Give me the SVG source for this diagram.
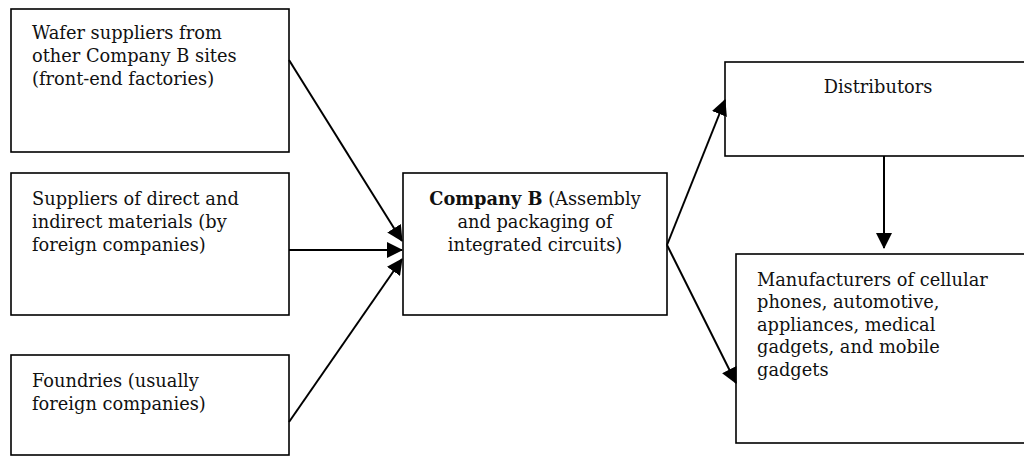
<svg xmlns="http://www.w3.org/2000/svg" width="1024" height="456" viewBox="0 0 1024 456">
<style>
.box{fill:#fff;stroke:#000;stroke-width:1.6}
.t{font-family:"DejaVu Serif","Liberation Serif",serif;font-size:17.8px;fill:#111}
.c{text-anchor:middle}
.conn line{stroke:#000;stroke-width:2;marker-end:url(#ah)}
</style>
<defs>
<marker id="ah" markerUnits="userSpaceOnUse" markerWidth="16" markerHeight="16" refX="15" refY="8" orient="auto">
<path d="M0,0 L16,8 L0,16 z" fill="#000"/>
</marker>
</defs>
<rect width="1024" height="456" fill="#fff"/>
<g id="wafer">
<rect class="box" x="11" y="9" width="278" height="143"/>
<text class="t" x="32" y="39">Wafer suppliers from</text>
<text class="t" x="32" y="62">other Company B sites</text>
<text class="t" x="32" y="85">(front-end factories)</text>
</g>
<g id="materials">
<rect class="box" x="11" y="173" width="278" height="142"/>
<text class="t" x="32" y="205">Suppliers of direct and</text>
<text class="t" x="32" y="228">indirect materials (by</text>
<text class="t" x="32" y="251">foreign companies)</text>
</g>
<g id="foundries">
<rect class="box" x="11" y="355" width="278" height="100"/>
<text class="t" x="32" y="387">Foundries (usually</text>
<text class="t" x="32" y="410">foreign companies)</text>
</g>
<g id="companyB">
<rect class="box" x="403" y="173" width="264" height="142"/>
<text class="t c" x="535" y="205"><tspan font-weight="bold">Company B</tspan> (Assembly</text>
<text class="t c" x="535" y="228">and packaging of</text>
<text class="t c" x="535" y="251">integrated circuits)</text>
</g>
<g id="distributors">
<rect class="box" x="725" y="62" width="310" height="94"/>
<text class="t c" x="878" y="93">Distributors</text>
</g>
<g id="manufacturers">
<rect class="box" x="736" y="254" width="300" height="189"/>
<text class="t" x="757" y="286">Manufacturers of cellular</text>
<text class="t" x="757" y="308">phones, automotive,</text>
<text class="t" x="757" y="331">appliances, medical</text>
<text class="t" x="757" y="353">gadgets, and mobile</text>
<text class="t" x="757" y="376">gadgets</text>
</g>
<g id="connectors" class="conn">
<line x1="289" y1="60" x2="402" y2="241"/>
<line x1="289" y1="250" x2="402" y2="250"/>
<line x1="289" y1="422" x2="402" y2="259"/>
<line x1="667" y1="245" x2="725" y2="100"/>
<line x1="667" y1="245" x2="736" y2="383"/>
<line x1="884" y1="156" x2="884" y2="248"/>
</g>
</svg>
